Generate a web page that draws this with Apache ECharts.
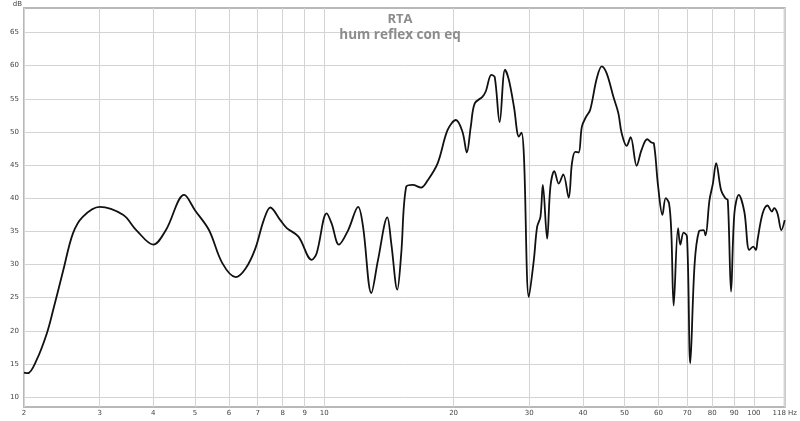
<!DOCTYPE html>
<html>
<head>
<meta charset="utf-8">
<script src="https://cdn.jsdelivr.net/npm/echarts@6/dist/echarts.min.js"></script>
<style>html,body{margin:0;padding:0;background:#fff}#c{width:800px;height:421px}</style>
</head>
<body>
<div id="c"></div>
<script>
const freqs = [2.00,2.04,2.14,2.26,2.34,2.47,2.60,2.74,3.00,3.40,3.65,4.00,4.28,4.72,5.00,5.39,5.79,6.22,6.56,6.91,7.23,7.49,7.90,8.18,8.71,9.35,9.60,10.13,10.40,10.82,11.37,11.99,12.31,12.87,13.34,14.02,14.32,14.79,15.10,15.51,16.07,16.80,17.41,18.37,19.37,20.25,20.98,21.47,21.93,22.40,23.34,23.76,24.49,24.93,25.60,26.35,26.91,27.64,28.39,28.78,29.16,29.94,30.75,31.30,31.86,32.27,33.02,33.60,34.32,35.14,36.00,37.06,37.72,38.39,39.09,39.78,40.70,41.58,43.09,44.26,45.46,47.10,48.38,49.24,50.57,51.66,53.35,54.78,56.46,57.77,58.49,59.88,61.26,62.35,63.48,64.26,65.06,66.61,67.43,68.62,69.88,71.12,72.78,74.51,76.35,77.16,78.83,80.28,81.70,83.90,85.84,86.96,88.50,90.08,92.22,95.00,97.57,99.68,101.1,102.0,104.8,107.6,110.1,111.5,113.5,115.9,118.0];
const levels = [13.7,13.6,15.6,19.6,23.2,29.2,34.7,37.2,38.7,37.5,35.2,33.0,35.2,40.5,38.2,35.2,30.2,28.1,29.4,32.4,36.7,38.6,36.7,35.5,34.2,30.7,31.7,37.7,36.2,33.0,35.2,38.7,35.7,25.7,30.7,37.1,33.2,26.2,31.5,41.7,42.0,41.6,42.7,45.3,50.3,51.8,50.0,46.9,50.8,54.3,55.3,56.1,58.6,58.3,51.5,59.4,57.8,53.8,49.3,49.9,46.3,25.1,30.7,35.7,37.2,42.0,33.9,41.7,44.1,42.2,43.6,40.1,45.3,47.0,46.9,50.8,52.3,53.3,58.1,59.9,58.8,55.3,52.8,49.8,47.9,49.2,44.9,47.3,48.9,48.4,48.3,41.7,37.5,40.0,39.2,34.7,23.8,35.5,33.0,34.8,34.2,15.1,30.0,35.0,35.2,34.4,39.7,42.2,45.3,41.2,40.0,39.7,25.9,37.7,40.5,38.0,32.2,32.7,32.2,33.7,37.7,38.9,38.0,38.5,37.7,35.2,36.7];
const xTicks = [2,3,4,5,6,7,8,9,10,20,30,40,50,60,70,80,90,100,118];
const yTicks = [10,15,20,25,30,35,40,45,50,55,60,65];
const titleText = 'RTA';
const subtitleText = 'hum reflex con eq';

const chart = echarts.init(document.getElementById('c'), null, {renderer:'canvas'});
chart.setOption({
  animation: false,
  backgroundColor: '#fff',
  title: {
    text: titleText, subtext: subtitleText, left: 'center', top: 8, itemGap: 2,
    textStyle: {fontFamily: 'Open Sans', fontSize: 13, fontWeight: 'bold', color: '#8c8c8c'},
    subtextStyle: {fontFamily: 'Open Sans', fontSize: 13.5, fontWeight: 'bold', color: '#8c8c8c'}
  },
  grid: {left: 24, right: 12, top: 8, bottom: 14, show: true, borderColor: '#b8b8b8', borderWidth: 2, backgroundColor: 'transparent'},
  xAxis: {
    type: 'log', logBase: 10, min: 2, max: 118,
    axisLine: {show: false},
    axisTick: {show: false, customValues: xTicks},
    axisLabel: {customValues: xTicks, fontSize: 7, color: '#444', margin: 3, fontFamily: 'DejaVu Sans',
      formatter: v => (Math.abs(v - 118) < 0.01 ? '118 Hz' : String(Math.round(v)))},
    splitLine: {show: true, lineStyle: {color: '#d4d4d4', width: 1}},
    minorSplitLine: {show: false}
  },
  yAxis: {
    type: 'value', min: 8.5, max: 68.7,
    name: 'dB', nameLocation: 'end', nameGap: 0,
    nameTextStyle: {fontSize: 7, color: '#444', align: 'right', verticalAlign: 'bottom', padding: [0, 2, 0, 0], fontFamily: 'DejaVu Sans'},
    axisLine: {show: false},
    axisTick: {show: false, customValues: yTicks},
    axisLabel: {customValues: yTicks, fontSize: 7, color: '#444', margin: 5, fontFamily: 'DejaVu Sans'},
    splitLine: {show: true, lineStyle: {color: '#d4d4d4', width: 1}}
  },
  series: [{
    type: 'line', data: freqs.map((f, i) => [f, levels[i]]),
    showSymbol: false, smooth: 0.35,
    lineStyle: {color: '#111', width: 1.8}
  }]
});
</script>
</body>
</html>
